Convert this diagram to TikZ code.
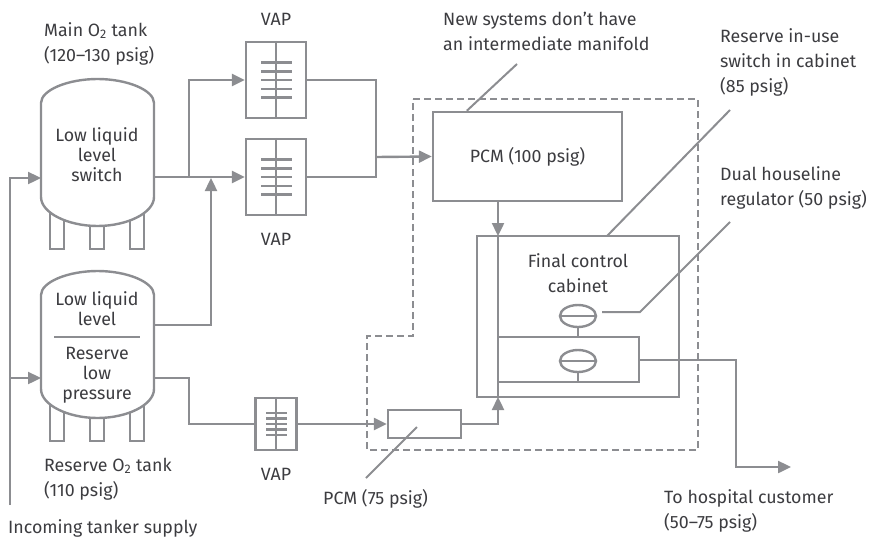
\documentclass[tikz,border=0pt]{standalone}
\usepackage{fontspec}
\setmainfont{Fira Sans}
\usetikzlibrary{arrows.meta,shapes.geometric}
\definecolor{pipegray}{HTML}{8C8D91}
\definecolor{labelgray}{HTML}{3C3C40}
\tikzset{
  pipe/.style={draw=pipegray, line width=2.4pt},
  flow/.style={pipe, -{Triangle[length=13pt,width=12pt]}},
  leader/.style={draw=pipegray, line width=2pt},
  boxpart/.style={pipe, rectangle, inner sep=0pt, text=labelgray},
  tanklabel/.style={align=center, text=labelgray, font=\fontsize{17.8}{20}\selectfont, inner sep=0pt},
  note/.style={align=left, text=labelgray, font=\fontsize{17.8}{25}\selectfont, inner sep=0pt, anchor=west},
  regulator/.style={pipe, ellipse, minimum width=36pt, minimum height=22pt, inner sep=0pt}
}
\begin{document}
\begin{tikzpicture}[x=1pt, y=-1pt]
    \useasboundingbox (0,0) rectangle (869,541);

    % boundary of the new systems
    \draw[pipe, dashed, dash pattern=on 7pt off 4pt] (413,99) -- (698,99) -- (698,450) -- (367,450) -- (367,336) -- (413,336) -- cycle;

    % tanks
    \foreach \legx in {50,90,130} {
        \draw[pipe] (\legx,210) -- (\legx,249) -- (\legx+14,249) -- (\legx+14,210);
        \draw[pipe] (\legx,400) -- (\legx,441) -- (\legx+14,441) -- (\legx+14,400);
    }
    \filldraw[pipe, fill=white] (41,103) .. controls (41,90) and (68,79) .. (97.5,79) .. controls (127,79) and (154,90) .. (154,103) -- (154,197) .. controls (154,213) and (127,226) .. (97.5,226) .. controls (68,226) and (41,213) .. (41,197) -- cycle;
    \filldraw[pipe, fill=white] (41,295) .. controls (41,282) and (68,271) .. (97.5,271) .. controls (127,271) and (154,282) .. (154,295) -- (154,389) .. controls (154,405) and (127,418) .. (97.5,418) .. controls (68,418) and (41,405) .. (41,389) -- cycle;
    \node[tanklabel] (mainlabel) at (97,155) {Low liquid\\level\\switch};
    \node[tanklabel] (lowlabel) at (97,309) {Low liquid\\level};
    \node[tanklabel] (reservelabel) at (97,375) {Reserve\\low\\pressure};
    \draw[pipe] (54,337) -- (140,337);

    \coordinate (mainin) at (41,178);
    \coordinate (mainout) at (154,177);
    \coordinate (reserveup) at (154,325);
    \coordinate (reservein) at (41,378);
    \coordinate (reserveout) at (154,378);
    \coordinate (supply) at (10,505);

    % vaporizers
    \node[boxpart, minimum width=60pt, minimum height=76pt] (vaptop) at (276,80) {};
    \node[boxpart, minimum width=60pt, minimum height=76pt] (vapmid) at (276,177) {};
    \node[boxpart, minimum width=41pt, minimum height=52pt] (vaplow) at (276,424) {};
    \foreach \vap in {vaptop,vapmid,vaplow} {
        \draw[pipe] (\vap.north) -- (\vap.south);
    }
    \foreach \bary in {-17.5,-9,0,8.5,17.5} {
        \draw[pipe] ([xshift=-15pt,yshift=\bary pt]vaptop.center) -- ([xshift=16pt,yshift=\bary pt]vaptop.center);
        \draw[pipe] ([xshift=-15pt,yshift=\bary pt]vapmid.center) -- ([xshift=16pt,yshift=\bary pt]vapmid.center);
    }
    \foreach \bary in {-11,-5.5,0,5.5,11} {
        \draw[pipe] ([xshift=-10pt,yshift=\bary pt]vaplow.center) -- ([xshift=11pt,yshift=\bary pt]vaplow.center);
    }

    % control boxes
    \node[boxpart, minimum width=189pt, minimum height=89pt, font=\fontsize{17.8}{20}\selectfont] (pcmmain) at (527.5,156.5) {PCM (100 psig)};
    \node[boxpart, minimum width=73pt, minimum height=28pt] (pcmlow) at (424.5,424) {};
    \node[boxpart, minimum width=202pt, minimum height=161pt] (cabinet) at (578,316.5) {};
    \node[boxpart, minimum width=141pt, minimum height=45pt] (inner) at (568.5,359.5) {};
    \node[tanklabel, font=\fontsize{17.8}{25}\selectfont] (cabinetlabel) at (578,273) {Final control\\cabinet};
    \node[regulator] (regtop) at (578,316) {};
    \node[regulator] (regbot) at (578,361) {};
    \draw[pipe] (regtop.west) -- (regtop.east);
    \draw[pipe] (regbot.west) -- (regbot.east);
    \draw[pipe] (regtop.south) -- (regtop.south |- inner.north);
    \draw[pipe] (regbot.south) -- (regbot.south |- inner.south);
    \coordinate (cabtop) at (498,236);
    \coordinate (cabbot) at (498,397);
    \draw[pipe] (cabtop) -- (cabbot);

    % flows
    \draw[flow] (supply) |- (mainin);
    \draw[flow] (10,378) -- (reservein);
    \draw[flow] (mainout) -- (vapmid.west |- mainout);
    \draw[flow] (189,177) |- (vaptop.west);
    \draw[flow] (reserveup) -| (211,178);
    \draw[pipe] (vaptop.east) -| (376,177) -- (vapmid.east);
    \draw[flow] (376,157) -- (pcmmain.west);
    \draw[pipe] (reserveout) -| (189,424) -- (vaplow.west);
    \draw[flow] (vaplow.east) -- (pcmlow.west);
    \draw[flow] (pcmlow.east) -| (cabbot);
    \draw[flow] (pcmmain.south -| cabtop) -- (cabtop);
    \coordinate (hospital) at (791,467);
    \draw[flow] (inner.east |- 0,360) -| (736,467) -- (hospital);

    % leaders
    \draw[leader] (pcmmain.north west) ++(35,0) -- (517,64);
    \draw[leader] (607,236) -- (730,110);
    \draw[leader] (602,312) -- (640,312) -- (730,222);
    \draw[leader] (366,478) -- (417,427);

    % labels
    \node[note] (maintext) at (44,43.5) {Main O\textsubscript{2} tank\\(120–130 psig)};
    \node[note, anchor=center] (vaptoptext) at (276,19) {VAP};
    \node[note, anchor=center] (vapmidtext) at (276,239) {VAP};
    \node[note] (newtext) at (443,31) {New systems don't have\\an intermediate manifold};
    \node[note] (reservetext) at (720,62) {Reserve in-use\\switch in cabinet\\(85 psig)};
    \node[note] (dualtext) at (720,188) {Dual houseline\\regulator (50 psig)};
    \node[note] (restanktext) at (44,479) {Reserve O\textsubscript{2} tank\\(110 psig)};
    \node[note, anchor=center] (vaplowtext) at (276,474) {VAP};
    \node[note] (pcmlowtext) at (323,499) {PCM (75 psig)};
    \node[note] (supplytext) at (8,528) {Incoming tanker supply};
    \node[note] (hospitaltext) at (664,511) {To hospital customer\\(50–75 psig)};
\end{tikzpicture}
\end{document}
